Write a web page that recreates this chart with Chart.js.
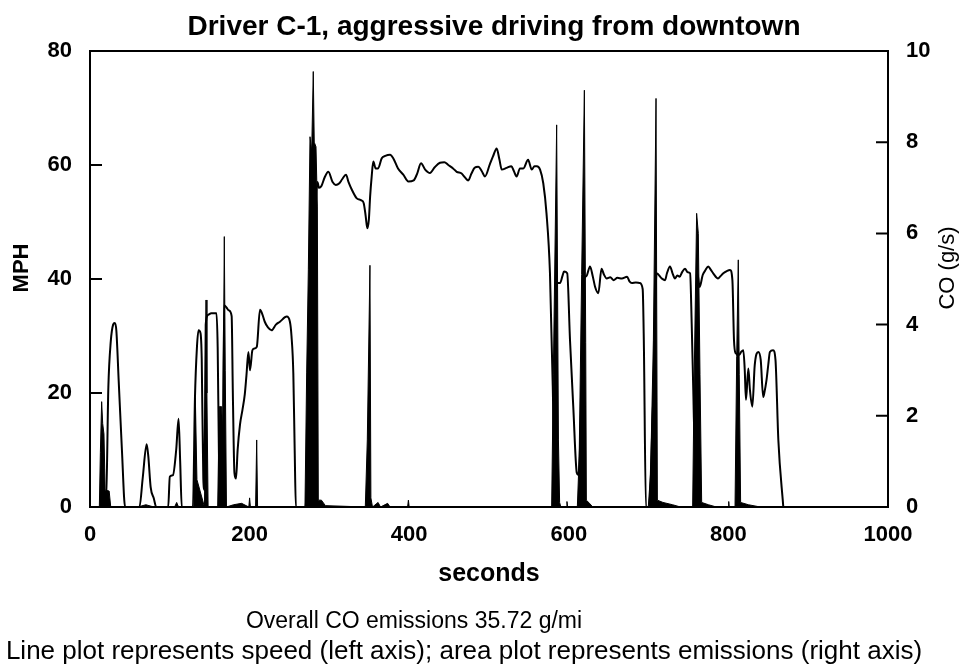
<!DOCTYPE html>
<html>
<head>
<meta charset="utf-8">
<title>Driver C-1, aggressive driving from downtown</title>
<script src="https://cdn.jsdelivr.net/npm/chart.js@4.4.0/dist/chart.umd.js"></script>
<style>
    html, body { margin: 0; padding: 0; background: #fff; }
    #wrap { width: 974px; height: 666px; position: relative; }
</style>
</head>
<body>
<div id="wrap"><canvas id="chart"></canvas></div>
<script>
// speed trace (seconds, MPH)
const speedTimes = [0, 20, 23, 26, 29, 31, 33, 36, 40, 44,
    62, 66, 71, 73, 76, 80, 83,
    98, 100, 104, 108, 111, 113, 115,
    129, 131.5, 134, 136, 138.5, 140, 142, 143.5, 145, 148, 152, 158.5, 160, 161.5, 163,
    166, 168, 171, 174, 177.5, 179, 181, 183, 185, 188, 191, 194, 196, 198.5, 200.5, 203.5,
    206, 209, 213, 216, 219, 223, 227.5, 233, 238, 246.5, 250.5, 252.5, 254.8, 256.5, 258,
    270, 274, 278, 282, 285, 287, 290, 294, 298.7, 304, 308, 312.5, 316, 320.8, 324, 328,
    334, 340, 343, 345.5, 347.5, 349.5, 351, 353, 355, 358, 361, 365.6, 370, 376, 380, 386,
    392.6, 399, 405.6, 410, 414.8, 420, 426, 432, 438.6, 444, 449, 455, 459.5, 465.7, 470,
    474, 478, 482, 486.6, 491, 495, 501, 505, 509.6, 513, 516, 522, 528, 531, 534.6, 538.8,
    543, 549, 553.6, 557, 560, 564, 568, 572, 576.4, 580, 582, 583.5, 584.8, 589, 592, 594,
    598, 601.5, 605.6, 610, 612, 614.5, 616.5, 619, 622, 626.6, 630, 633, 637, 641, 644,
    647.5, 652, 656, 661, 666.5, 673, 676, 679, 684, 689, 692.6, 694, 696.7,
    700, 706, 710, 716.5, 720.6, 723, 726.8, 730, 733, 736, 739, 742, 745.6, 749, 752, 754,
    756, 757.5, 759.5, 761, 764, 767.8, 771, 774.8, 778, 781, 787, 790, 793.6, 798, 802, 805,
    807, 809, 813.6, 816, 818.7, 820.5, 822, 825, 827, 830, 833, 837.5, 840.5, 843.6, 845,
    847.7, 850, 852, 856, 859, 862.6, 868.8];
const speedMph = [0, 0, 21, 29, 32, 32.3, 31, 22, 10, 0,
    0, 5, 11, 9, 3.5, 1.5, 0,
    0, 5.3, 5.6, 10, 15.5, 8, 0,
    0, 19, 28, 31, 30.5, 26, 5, 3, 32, 33.7, 34, 34, 28, 10, 0,
    0, 35.4, 35, 34.5, 33.5, 20, 6, 5, 10, 14.5, 17, 19.8, 23, 27.2, 24, 27.5,
    27.8, 28.1, 34.6, 33.8, 32.5, 31.5, 31, 32, 32.5, 33.4, 32.5, 30, 23.4, 10, 0,
    0, 15, 35, 50, 57, 56, 56.3, 57.8, 58.8, 57, 56.5, 56.8, 57.5, 58.3, 57, 55.7,
    54.2, 53.8, 53.3, 51, 48.9, 50.5, 54.4, 58, 60.6, 59.4, 59.4, 61.2, 61.6, 61.8, 61.2, 59.4,
    58.3, 57.1, 57.3, 58.5, 60.3, 59.2, 58.6, 59.6, 60.4, 60.5, 60, 59.4, 58.8, 58.5, 57.8,
    57.3, 58.5, 59.5, 59.7, 58.9, 58, 60.1, 61.5, 62.9, 61, 59.2, 59.5, 59.8, 59, 58, 59.4,
    59.4, 60.9, 59.2, 59.8, 59.8, 59.2, 56.8, 51.6, 41, 20.5, 6, 25, 39.3, 39.3, 40.5, 41.3,
    41, 29.3, 17.6, 6, 5.6, 12, 23.4, 39.8, 40.5, 42.2, 40.5, 38.6, 37.5, 41.8, 40.8,
    40.1, 40.3, 39.8, 40.2, 40.1, 40.4, 39.6, 39.3, 39.4, 39.3, 38.2, 29.3, 0,
    0, 20, 41, 40.1, 39.8, 41, 42.2, 41, 40.1, 40.6, 40.4, 41.2, 41.8, 41.2, 41, 32.2,
    20.5, 12, 25, 41, 38.6, 40.7, 41.5, 42.2, 41.6, 41, 40.1, 40.5, 41, 41.4, 41.6, 39.8,
    29.3, 27, 26.7, 27.2, 27.5, 24, 18.8, 24.3, 20.5, 17.6, 24.9, 27.2, 25.8, 19.3, 20,
    22.2, 25, 27.2, 27.5, 25.8, 11.7, 0];

// CO emission rate (seconds, g/s)
const coTimes = [0, 11.7, 13, 14.6, 15.9, 17.5, 19, 24, 26,
    60, 70, 80, 106, 108.6, 111,
    130, 132, 134, 143.5, 144.5, 145.4, 146.5, 148,
    160, 162, 165, 166.5, 168.3, 169.5, 171,
    180, 190, 199, 200, 201, 207.5, 208.9, 210,
    269.4, 271.5, 273.6, 275.7, 277.8, 279.8, 281, 283.2, 284.9, 286.1, 290, 295,
    345, 347.5, 350.8, 352, 354, 361, 364, 373, 376, 398, 399, 400,
    578.5, 580.6, 584.8, 587, 588.5, 590, 597, 597.7, 598.5,
    610.7, 613, 616.1, 619.5, 621.2, 622, 626, 630,
    699.6, 702.5, 706, 709.3, 711, 718, 730, 740,
    755.2, 756.9, 760.2, 762.3, 764.4, 766.5, 775, 785,
    800, 800.4, 801,
    808.3, 810.4, 812.4, 813.6, 815.3, 825, 840, 1000];
const coRates = [0, 0, 1.2, 2.31, 1.83, 1.6, 0.37, 0.35, 0,
    0, 0.05, 0, 0, 0.1, 0,
    0, 2.4, 0.6, 0, 2.9, 4.54, 2.5, 0,
    0, 2.2, 2.2, 1.5, 5.93, 3, 0,
    0.05, 0.08, 0, 0.2, 0, 0, 1.47, 0,
    0, 2.94, 5.2, 8.12, 7.8, 9.55, 8.0, 7.9, 6.6, 0.15, 0.15, 0.03,
    0, 1.47, 5.3, 0.2, 0, 0.1, 0, 0.08, 0, 0, 0.15, 0,
    0, 2.9, 8.38, 1.47, 0.1, 0, 0, 0.12, 0,
    0, 1.1, 5.1, 9.14, 3.6, 0.15, 0.08, 0,
    0, 0.74, 3.66, 8.96, 0.15, 0.1, 0.05, 0,
    0, 2.56, 6.44, 6.0, 2.9, 0.1, 0.05, 0,
    0, 0.12, 0,
    0, 3.3, 5.42, 2.9, 0.1, 0.05, 0, 0];

const titleText = 'Driver C-1, aggressive driving from downtown';
const noteLines = ['Overall CO emissions 35.72 g/mi',
    'Line plot represents speed (left axis); area plot represents emissions (right axis)'];

const FONT = '"Liberation Sans", Arial, sans-serif';

// frame, inward tick marks, titles and the notes under the chart
const framePlugin = {
    id: 'frame',
    afterDraw(chart) {
        const { ctx, chartArea: a, scales } = chart;
        ctx.save();
        ctx.strokeStyle = '#000';
        ctx.lineWidth = 2;
        ctx.strokeRect(a.left, a.top, a.right - a.left, a.bottom - a.top);

        ctx.beginPath();
        scales.y.ticks.forEach(t => {
            if (t.value <= scales.y.min || t.value >= scales.y.max) return;
            const py = scales.y.getPixelForValue(t.value);
            ctx.moveTo(a.left, py);
            ctx.lineTo(a.left + 12, py);
        });
        scales.y1.ticks.forEach(t => {
            if (t.value <= scales.y1.min || t.value >= scales.y1.max) return;
            const py = scales.y1.getPixelForValue(t.value);
            ctx.moveTo(a.right, py);
            ctx.lineTo(a.right - 12, py);
        });
        ctx.stroke();

        ctx.fillStyle = '#000';
        ctx.textBaseline = 'middle';
        ctx.textAlign = 'center';

        ctx.font = 'bold 28px ' + FONT;
        ctx.fillText(titleText, 494, 27);

        ctx.save();
        ctx.translate(22, 268);
        ctx.rotate(-Math.PI / 2);
        ctx.font = 'bold 22px ' + FONT;
        ctx.fillText('MPH', 0, 0);
        ctx.restore();

        ctx.save();
        ctx.translate(948, 268);
        ctx.rotate(-Math.PI / 2);
        ctx.font = '22px ' + FONT;
        ctx.fillText('CO (g/s)', 0, 0);
        ctx.restore();

        ctx.font = '23px ' + FONT;
        ctx.fillText(noteLines[0], 414, 622);
        ctx.font = '26px ' + FONT;
        ctx.fillText(noteLines[1], 464, 652);
        ctx.restore();
    }
};

Chart.defaults.color = '#000';
Chart.defaults.font.family = FONT;

new Chart(document.getElementById('chart'), {
    type: 'line',
    data: {
        datasets: [
            {
                label: 'CO (g/s)',
                data: coTimes.map((t, i) => ({ x: t, y: coRates[i] })),
                yAxisID: 'y1',
                borderColor: '#000',
                backgroundColor: '#000',
                borderWidth: 1,
                fill: 'origin',
                pointRadius: 0,
                tension: 0
            },
            {
                label: 'MPH',
                data: speedTimes.map((t, i) => ({ x: t, y: speedMph[i] })),
                yAxisID: 'y',
                borderColor: '#000',
                borderWidth: 2,
                fill: false,
                pointRadius: 0,
                cubicInterpolationMode: 'monotone'
            }
        ]
    },
    options: {
        responsive: true,
        maintainAspectRatio: false,
        animation: false,
        layout: { padding: { left: 0, right: 0, top: 51, bottom: 77 } },
        plugins: {
            legend: { display: false },
            tooltip: { enabled: false },
            title: { display: false }
        },
        scales: {
            x: {
                type: 'linear',
                min: 0,
                max: 1000,
                grid: { display: false, drawTicks: false },
                border: { display: false },
                ticks: {
                    stepSize: 200,
                    maxRotation: 0,
                    autoSkip: false,
                    padding: 15,
                    font: { size: 22, weight: 'bold' },
                    callback: (value) => String(value)
                },
                title: {
                    display: true,
                    text: 'seconds',
                    font: { size: 25, weight: 'bold' },
                    padding: { top: 0, bottom: 0 }
                },
                afterFit(scale) { scale.height = 82; }
            },
            y: {
                position: 'left',
                min: 0,
                max: 80,
                grid: { display: false, drawTicks: false },
                border: { display: false },
                ticks: {
                    stepSize: 20,
                    padding: 18,
                    font: { size: 22, weight: 'bold' }
                },
                afterFit(scale) { scale.width = 90; }
            },
            y1: {
                position: 'right',
                min: 0,
                max: 10,
                grid: { display: false, drawTicks: false },
                border: { display: false },
                ticks: {
                    stepSize: 2,
                    padding: 18,
                    font: { size: 22, weight: 'bold' }
                },
                afterFit(scale) { scale.width = 86; }
            }
        }
    },
    plugins: [framePlugin]
});
</script>
</body>
</html>
